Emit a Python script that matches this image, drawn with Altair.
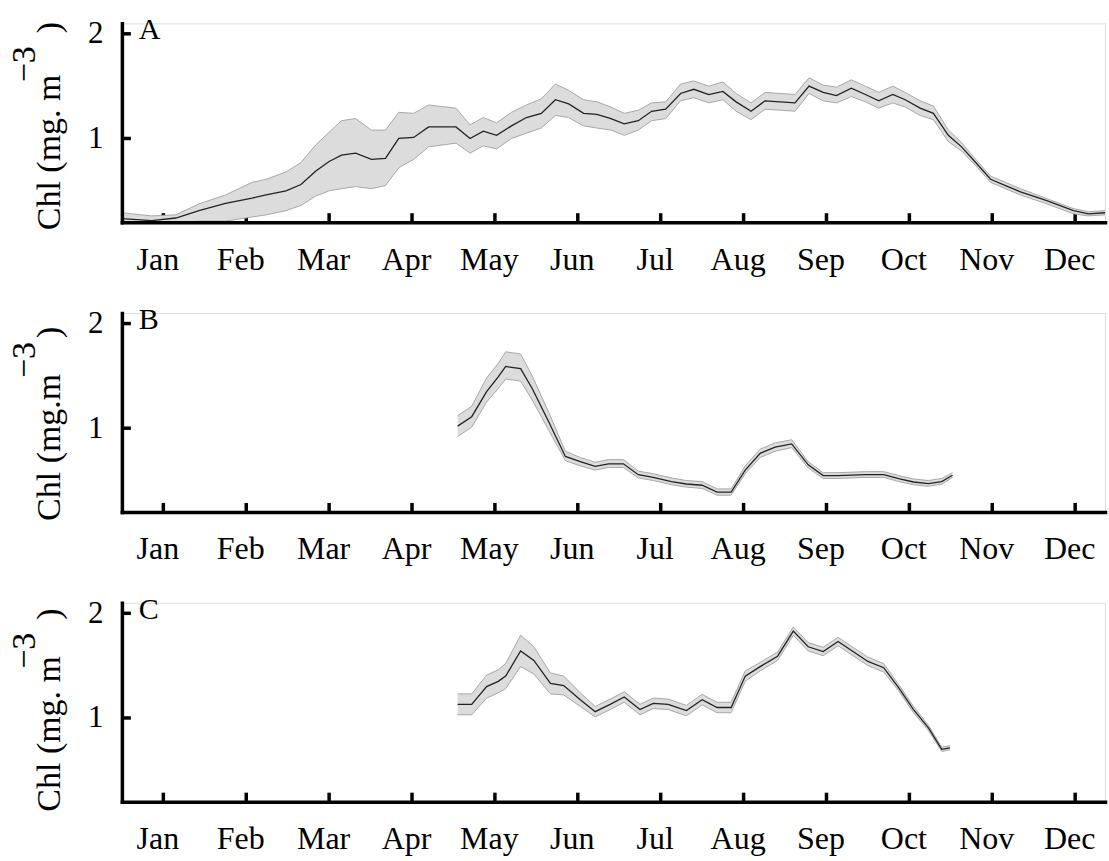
import altair as alt
import pandas as pd

# ---------------- data ----------------
MONTHS = ["Jan", "Feb", "Mar", "Apr", "May", "Jun", "Jul", "Aug", "Sep", "Oct", "Nov", "Dec"]
MONTH_POS = [1, 2, 3, 4, 5, 6, 7, 8, 9, 10, 11, 12]
Y_TICKS = [1, 2]
X_DOMAIN = [0.5, 12.36]
Y_DOMAIN = [0.2, 2.1]

A_T = [0.50, 0.86, 1.15, 1.43, 1.75, 2.07, 2.24, 2.48, 2.66, 2.84, 3.00, 3.15, 3.32, 3.51, 3.68,
       3.84, 4.02, 4.20, 4.53, 4.70, 4.86, 5.02, 5.20, 5.38, 5.56, 5.73, 5.89, 6.07, 6.23, 6.40,
       6.56, 6.73, 6.89, 7.06, 7.24, 7.40, 7.58, 7.75, 7.91, 8.09, 8.26, 8.62, 8.79, 8.96, 9.12,
       9.30, 9.47, 9.63, 9.80, 9.95, 10.13, 10.29, 10.47, 10.63, 10.80, 10.98, 11.16, 11.34,
       11.64, 11.98, 12.16, 12.36]
A_MEAN = [0.234, 0.215, 0.24, 0.31, 0.38, 0.43, 0.46, 0.50, 0.56, 0.69, 0.78, 0.84, 0.86, 0.80, 0.81,
          1.00, 1.01, 1.11, 1.11, 1.00, 1.07, 1.03, 1.12, 1.20, 1.24, 1.37, 1.33, 1.24, 1.23, 1.19,
          1.14, 1.17, 1.26, 1.28, 1.43, 1.47, 1.42, 1.45, 1.35, 1.26, 1.36, 1.34, 1.50, 1.44, 1.41,
          1.48, 1.42, 1.36, 1.42, 1.37, 1.29, 1.24, 1.03, 0.92, 0.77, 0.61, 0.55, 0.49,
          0.41, 0.31, 0.28, 0.29]
A_HI = [0.29, 0.26, 0.27, 0.375, 0.46, 0.58, 0.61, 0.68, 0.77, 0.94, 1.06, 1.17, 1.19, 1.08, 1.08,
        1.25, 1.24, 1.32, 1.29, 1.13, 1.20, 1.15, 1.25, 1.32, 1.38, 1.52, 1.46, 1.37, 1.35, 1.30,
        1.24, 1.27, 1.34, 1.35, 1.52, 1.55, 1.50, 1.54, 1.43, 1.34, 1.44, 1.42, 1.58, 1.51, 1.49,
        1.56, 1.50, 1.44, 1.50, 1.44, 1.36, 1.31, 1.08, 0.96, 0.80, 0.64, 0.58, 0.52,
        0.43, 0.33, 0.30, 0.31]
A_LO = [0.20, 0.20, 0.20, 0.21, 0.21, 0.25, 0.27, 0.31, 0.36, 0.45, 0.50, 0.52, 0.54, 0.52, 0.55,
        0.72, 0.80, 0.92, 0.955, 0.86, 0.93, 0.90, 1.00, 1.05, 1.10, 1.22, 1.20, 1.12, 1.10, 1.08,
        1.03, 1.08, 1.17, 1.19, 1.36, 1.39, 1.34, 1.37, 1.26, 1.18, 1.28, 1.26, 1.43, 1.36, 1.34,
        1.40, 1.35, 1.29, 1.34, 1.30, 1.22, 1.18, 0.97, 0.88, 0.74, 0.58, 0.52, 0.46,
        0.38, 0.28, 0.26, 0.27]

B_T = [4.55, 4.72, 4.90, 5.04, 5.13, 5.31, 5.45, 5.65, 5.85, 6.03, 6.21, 6.37, 6.55, 6.73, 6.91,
       7.13, 7.31, 7.50, 7.68, 7.85, 8.02, 8.20, 8.38, 8.58, 8.78, 8.96, 9.14, 9.47, 9.69, 9.87,
       10.05, 10.23, 10.39, 10.52]
B_MEAN = [1.02, 1.11, 1.35, 1.49, 1.59, 1.57, 1.38, 1.06, 0.73, 0.68, 0.635, 0.66, 0.66, 0.556, 0.53,
          0.49, 0.467, 0.455, 0.39, 0.39, 0.60, 0.76, 0.82, 0.85, 0.65, 0.547, 0.547, 0.556, 0.556,
          0.518, 0.486, 0.47, 0.49, 0.55]
B_HI = [1.12, 1.21, 1.48, 1.62, 1.73, 1.71, 1.50, 1.15, 0.78, 0.72, 0.675, 0.70, 0.70, 0.59, 0.565,
        0.525, 0.50, 0.49, 0.42, 0.42, 0.64, 0.80, 0.86, 0.89, 0.68, 0.575, 0.575, 0.585, 0.585,
        0.548, 0.515, 0.50, 0.52, 0.575]
B_LO = [0.92, 1.01, 1.25, 1.38, 1.47, 1.45, 1.27, 0.98, 0.69, 0.64, 0.60, 0.625, 0.625, 0.525, 0.50,
        0.46, 0.437, 0.425, 0.36, 0.36, 0.565, 0.72, 0.78, 0.815, 0.62, 0.52, 0.52, 0.53, 0.53,
        0.49, 0.46, 0.445, 0.465, 0.53]

C_T = [4.55, 4.72, 4.90, 5.04, 5.13, 5.31, 5.47, 5.67, 5.83, 6.03, 6.21, 6.39, 6.56, 6.75, 6.91,
       7.09, 7.31, 7.50, 7.68, 7.85, 8.02, 8.20, 8.41, 8.60, 8.78, 8.96, 9.14, 9.32, 9.50, 9.69,
       9.87, 10.05, 10.23, 10.39, 10.49]
C_MEAN = [1.13, 1.13, 1.30, 1.35, 1.40, 1.64, 1.55, 1.33, 1.31, 1.175, 1.06, 1.13, 1.20, 1.08, 1.14,
          1.13, 1.07, 1.175, 1.10, 1.10, 1.40, 1.49, 1.59, 1.83, 1.68, 1.635, 1.73, 1.635, 1.54, 1.48,
          1.29, 1.08, 0.905, 0.70, 0.715]
C_HI = [1.23, 1.23, 1.41, 1.46, 1.52, 1.79, 1.68, 1.43, 1.40, 1.24, 1.11, 1.18, 1.25, 1.13, 1.19,
        1.18, 1.12, 1.225, 1.15, 1.15, 1.45, 1.53, 1.63, 1.87, 1.72, 1.675, 1.77, 1.675, 1.58, 1.52,
        1.32, 1.11, 0.93, 0.72, 0.735]
C_LO = [1.03, 1.03, 1.19, 1.24, 1.28, 1.49, 1.42, 1.23, 1.22, 1.11, 1.01, 1.08, 1.15, 1.03, 1.09,
        1.08, 1.02, 1.125, 1.05, 1.05, 1.35, 1.45, 1.55, 1.79, 1.64, 1.595, 1.69, 1.595, 1.50, 1.44,
        1.26, 1.05, 0.88, 0.68, 0.695]

# ---------------- styling ----------------
FONT = "Liberation Serif, Times New Roman, DejaVu Serif, serif"
W, H = 984, 199
LABEL_EXPR = "[" + ",".join("'%s'" % m for m in MONTHS) + "][datum.value - 1]"

X_SCALE = alt.Scale(domain=X_DOMAIN, nice=False, zero=False)
Y_SCALE = alt.Scale(domain=Y_DOMAIN, nice=False, zero=False)

X_AXIS = alt.Axis(values=MONTH_POS, labelExpr=LABEL_EXPR, ticks=False, tickSize=0,
                  labelPadding=22, labelFontSize=32, labelFont=FONT, labelColor="black",
                  labelOffset=-6, labelFlush=False, labelOverlap=False,
                  domainColor="black", domainWidth=3.5, domainCap="square",
                  grid=False, title=None, zindex=1)
Y_AXIS = alt.Axis(values=Y_TICKS, format="d", ticks=False, tickSize=0,
                  labelPadding=19, labelFontSize=31, labelFont=FONT, labelColor="black",
                  labelFlush=False, labelOverlap=False,
                  domainColor="black", domainWidth=3.5, domainCap="square",
                  grid=False, title=None, zindex=1)


def txt(s, x, y, size, angle=0):
    d = pd.DataFrame({"s": [s]})
    kw = dict(font=FONT, fontSize=size, align="left", baseline="alphabetic", color="black")
    if angle:
        kw["angle"] = angle
    return alt.Chart(d).mark_text(**kw).encode(text="s:N", x=alt.value(x), y=alt.value(y))


def panel(letter, t, mean, lo, hi, main_title, pos_main, pos_sup, pos_paren):
    df = pd.DataFrame({"t": t, "mean": mean, "lo": lo, "hi": hi})
    x = alt.X("t:Q", scale=X_SCALE, axis=X_AXIS)

    xt = alt.Chart(pd.DataFrame({"t": MONTH_POS})).mark_rule(
        color="black", strokeWidth=3.5).encode(
        x=x, y=alt.value(H), y2=alt.value(H - 9))
    yt = alt.Chart(pd.DataFrame({"mean": Y_TICKS})).mark_rule(
        color="black", strokeWidth=3.5).encode(
        y=alt.Y("mean:Q", scale=Y_SCALE, axis=Y_AXIS), x=alt.value(0), x2=alt.value(9))

    base = alt.Chart(df)
    band = base.mark_area(color="#dcdcdc", opacity=1).encode(
        x=x, y=alt.Y("lo:Q", scale=Y_SCALE, axis=Y_AXIS), y2="hi:Q")
    edge_lo = base.mark_line(color="#a8a8a8", strokeWidth=1).encode(
        x=x, y=alt.Y("lo:Q", scale=Y_SCALE, axis=Y_AXIS))
    edge_hi = base.mark_line(color="#a8a8a8", strokeWidth=1).encode(
        x=x, y=alt.Y("hi:Q", scale=Y_SCALE, axis=Y_AXIS))
    line = base.mark_line(color="#222222", strokeWidth=1.3).encode(
        x=x, y=alt.Y("mean:Q", scale=Y_SCALE, axis=Y_AXIS))

    lab = txt(letter, 17, 16, 30)
    t_main = txt(main_title, -62, pos_main, 34, angle=270)
    t_sup = txt("\u22123", -87, pos_sup, 34, angle=270)
    t_par = txt(")", -62, pos_paren, 34, angle=270)

    return alt.layer(xt, yt, band, edge_lo, edge_hi, line, lab, t_main, t_sup, t_par).properties(
        width=W, height=H)


pA = panel("A", A_T, A_MEAN, A_LO, A_HI, "Chl (mg. m", 207, 59, 10)
pB = panel("B", B_T, B_MEAN, B_LO, B_HI, "Chl (mg.m", 208, 65, 25)
pC = panel("C", C_T, C_MEAN, C_LO, C_HI, "Chl (mg. m", 209, 66, 17)

chart = alt.vconcat(pA, pB, pC, spacing=28).properties(
    padding={"left": 7, "top": 14, "right": 0, "bottom": 0}
).configure_view(stroke=None).configure(font=FONT)

chart.save("out.html", embed_options={"renderer": "svg", "actions": False})
